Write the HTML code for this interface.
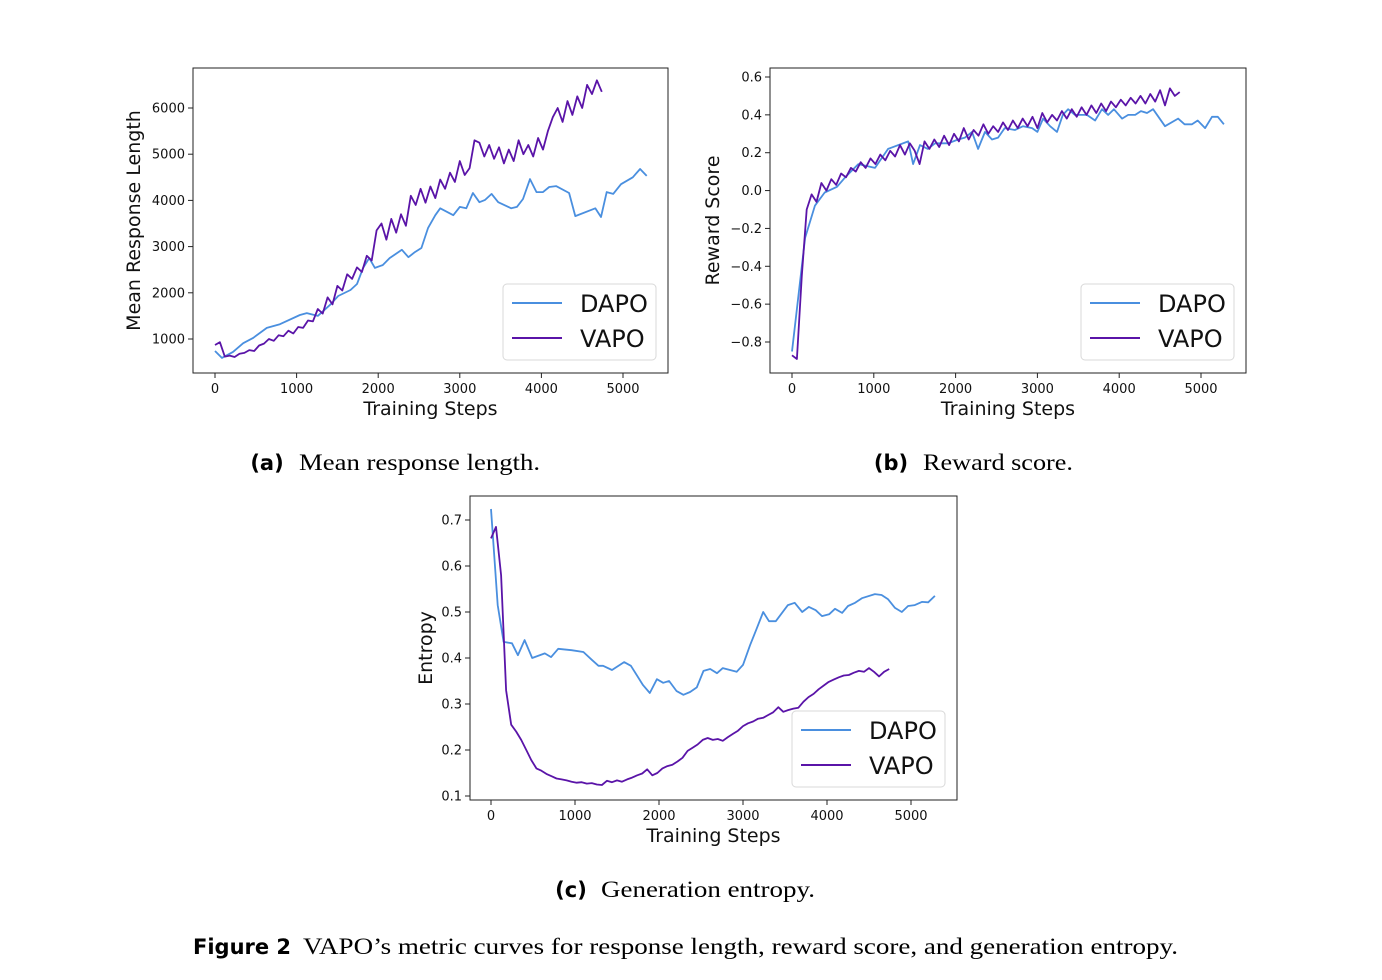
<!DOCTYPE html>
<html><head><meta charset="utf-8"><style>
html,body{margin:0;padding:0;background:#fff;}
svg{display:block;}
</style></head><body>
<svg id="fig" width="1382" height="980" xmlns="http://www.w3.org/2000/svg">
<text x="267" y="470" font-family="DejaVu Sans, sans-serif" font-weight="bold" font-size="21" text-anchor="middle">(a)</text>
<text x="299" y="470" font-family="Liberation Serif, serif" font-size="23" textLength="241" lengthAdjust="spacingAndGlyphs">Mean response length.</text>
<text x="891" y="470" font-family="DejaVu Sans, sans-serif" font-weight="bold" font-size="21" text-anchor="middle">(b)</text>
<text x="923" y="470" font-family="Liberation Serif, serif" font-size="23" textLength="150" lengthAdjust="spacingAndGlyphs">Reward score.</text>
<text x="571" y="897" font-family="DejaVu Sans, sans-serif" font-weight="bold" font-size="21" text-anchor="middle">(c)</text>
<text x="601" y="897" font-family="Liberation Serif, serif" font-size="23" textLength="214" lengthAdjust="spacingAndGlyphs">Generation entropy.</text>
<text x="193" y="954" font-family="DejaVu Sans, sans-serif" font-weight="bold" font-size="21">Figure 2</text>
<text x="303" y="954" font-family="Liberation Serif, serif" font-size="23" textLength="875" lengthAdjust="spacingAndGlyphs">VAPO’s metric curves for response length, reward score, and generation entropy.</text>
</svg>
<script>
// ---- Chart (a) data ----
const aDapoSteps=[0,85,220,345,465,635,795,1040,1125,1260,1410,1510,1660,1740,1815,1890,1960,2055,2140,2290,2370,2450,2530,2610,2700,2760,2920,3000,3080,3160,3240,3310,3390,3470,3630,3700,3775,3860,3940,4020,4095,4180,4340,4415,4660,4730,4800,4880,4975,5120,5210,5290];
const aDapoVals=[740,590,720,910,1020,1240,1320,1520,1560,1500,1740,1930,2060,2190,2540,2750,2540,2600,2750,2930,2770,2880,2970,3400,3680,3830,3680,3860,3830,4160,3960,4010,4140,3960,3830,3860,4030,4460,4180,4180,4290,4310,4160,3660,3830,3640,4180,4140,4350,4500,4680,4530];
const aVapoVals=[870,930,620,640,610,680,700,760,740,860,900,1000,960,1080,1060,1180,1120,1260,1240,1400,1380,1650,1550,1900,1750,2150,2050,2400,2300,2550,2450,2800,2700,3350,3500,3150,3600,3300,3700,3450,4100,3900,4250,3950,4300,4050,4450,4250,4600,4400,4850,4550,4700,5300,5250,4950,5200,4900,5150,4800,5100,4850,5300,5000,5200,4950,5350,5100,5500,5800,6000,5700,6150,5850,6250,6000,6500,6300,6600,6350];
const aYTicks=[1000,2000,3000,4000,5000,6000];
const aYTickLabels=["1000","2000","3000","4000","5000","6000"];
// ---- Chart (b) data ----
const bDapoSteps=[0,160,280,400,550,650,810,1015,1175,1420,1480,1565,1660,1750,1910,2030,2115,2200,2275,2360,2445,2520,2600,2725,2825,2935,3000,3070,3155,3240,3310,3375,3460,3605,3705,3790,3865,3935,4035,4110,4195,4265,4340,4415,4560,4720,4800,4890,4960,5050,5135,5205,5280];
const bDapoVals=[-0.85,-0.25,-0.08,-0.01,0.02,0.07,0.14,0.12,0.22,0.26,0.14,0.24,0.22,0.25,0.25,0.27,0.28,0.31,0.22,0.31,0.27,0.28,0.33,0.32,0.34,0.33,0.31,0.38,0.34,0.31,0.40,0.43,0.40,0.40,0.37,0.43,0.40,0.43,0.38,0.40,0.40,0.42,0.41,0.43,0.34,0.38,0.35,0.35,0.37,0.33,0.39,0.39,0.35];
const bVapoVals=[-0.87,-0.89,-0.45,-0.10,-0.02,-0.06,0.04,0.00,0.06,0.03,0.09,0.07,0.12,0.10,0.15,0.12,0.17,0.14,0.19,0.16,0.21,0.18,0.24,0.19,0.25,0.21,0.14,0.26,0.22,0.27,0.23,0.29,0.24,0.30,0.26,0.33,0.27,0.32,0.29,0.35,0.30,0.34,0.31,0.36,0.32,0.37,0.33,0.38,0.34,0.39,0.33,0.41,0.36,0.40,0.37,0.42,0.38,0.43,0.39,0.44,0.40,0.45,0.41,0.46,0.42,0.47,0.44,0.48,0.45,0.49,0.46,0.50,0.46,0.51,0.47,0.53,0.45,0.54,0.50,0.52];
const bYTicks=[-0.8,-0.6,-0.4,-0.2,0.0,0.2,0.4,0.6];
const bYTickLabels=["−0.8","−0.6","−0.4","−0.2","0.0","0.2","0.4","0.6"];
// ---- Chart (c) data ----
const cDapoSteps=[0,80,150,250,320,400,490,640,715,800,960,1100,1200,1280,1335,1440,1585,1665,1810,1890,1975,2050,2120,2210,2290,2370,2450,2530,2610,2690,2760,2925,3000,3085,3165,3240,3310,3390,3535,3615,3705,3785,3865,3940,4025,4095,4180,4250,4335,4415,4570,4650,4725,4810,4890,4965,5045,5130,5205,5285];
const cDapoVals=[0.724,0.515,0.435,0.432,0.406,0.439,0.40,0.41,0.402,0.42,0.417,0.413,0.396,0.383,0.383,0.374,0.391,0.383,0.341,0.324,0.354,0.346,0.35,0.328,0.32,0.326,0.336,0.372,0.376,0.367,0.378,0.37,0.385,0.428,0.465,0.50,0.48,0.48,0.515,0.52,0.50,0.511,0.504,0.491,0.495,0.507,0.498,0.513,0.52,0.53,0.539,0.537,0.528,0.509,0.50,0.513,0.515,0.522,0.521,0.535];
const cVapoVals=[0.66,0.685,0.58,0.33,0.255,0.24,0.222,0.2,0.178,0.16,0.155,0.148,0.143,0.138,0.136,0.134,0.131,0.129,0.13,0.127,0.128,0.125,0.124,0.133,0.13,0.134,0.131,0.136,0.14,0.145,0.149,0.158,0.145,0.15,0.16,0.165,0.168,0.175,0.183,0.198,0.205,0.212,0.222,0.226,0.222,0.224,0.22,0.228,0.235,0.242,0.252,0.258,0.262,0.268,0.27,0.276,0.282,0.293,0.283,0.287,0.29,0.292,0.305,0.315,0.322,0.332,0.34,0.348,0.353,0.358,0.362,0.363,0.368,0.372,0.37,0.378,0.37,0.36,0.37,0.376];
const cYTicks=[0.1,0.2,0.3,0.4,0.5,0.6,0.7];
const cYTickLabels=["0.1","0.2","0.3","0.4","0.5","0.6","0.7"];
// shared
const xTicks=[0,1000,2000,3000,4000,5000];
const xTickLabels=["0","1000","2000","3000","4000","5000"];
const vapoStepSize=60;

const NS="http://www.w3.org/2000/svg";
const svg=document.getElementById('fig');
function mk(tag,attrs,parent){const e=document.createElementNS(NS,tag);for(const k in attrs)e.setAttribute(k,attrs[k]);(parent||svg).appendChild(e);return e;}
const DAPO="#4a8fdf", VAPO="#5a14a8";

function chart(cfg){
  const g=mk('g',{});
  
  
  const sx=v=>cfg.x0+(v-cfg.xv0)*(cfg.x1-cfg.x0)/(cfg.xv1-cfg.xv0);
  const sy=v=>cfg.y0+(v-cfg.yv0)*(cfg.y1-cfg.y0)/(cfg.yv1-cfg.yv0);
  function line(steps,vals,color,nm){
    let d='';vals.forEach((v,i)=>{d+=(i?'L':'M')+sx(steps[i]).toFixed(1)+' '+sy(v).toFixed(1);});
    const p=mk('path',{d:d,fill:'none',stroke:color,'stroke-width':cfg.w||1.8,'stroke-linejoin':'round'},g);
    
    
  }
  line(cfg.dSteps,cfg.dVals,DAPO,'dapo-line');
  line(cfg.vVals.map((_,i)=>i*vapoStepSize),cfg.vVals,VAPO,'vapo-line');
  const fr=mk('rect',{x:cfg.bx,y:cfg.by,width:cfg.bw,height:cfg.bh,fill:'none',stroke:'#222','stroke-width':1},g);
  
  
  const bot=cfg.by+cfg.bh;
  xTicks.forEach((t,i)=>{
    const x=sx(t);
    mk('line',{x1:x,x2:x,y1:bot,y2:bot+5,stroke:'#222'},g);
    const tx=mk('text',{x:x,y:bot+20,'font-family':'DejaVu Sans, sans-serif','font-size':13,'text-anchor':'middle',fill:'#111'},g);
    tx.textContent=xTickLabels[i];
    
    
  });
  cfg.yTicks.forEach((t,i)=>{
    const y=sy(t);
    mk('line',{x1:cfg.bx-5,x2:cfg.bx,y1:y,y2:y,stroke:'#222'},g);
    const tx=mk('text',{x:cfg.bx-8,y:y+4.5,'font-family':'DejaVu Sans, sans-serif','font-size':13,'text-anchor':'end',fill:'#111'},g);
    tx.textContent=cfg.yLabels[i];
    
    
  });
  const xl=mk('text',{x:cfg.bx+cfg.bw/2,y:bot+42,'font-family':'DejaVu Sans, sans-serif','font-size':19,'text-anchor':'middle',fill:'#111'},g);
  xl.textContent='Training Steps';
  
  
  const yl=mk('text',{x:0,y:0,transform:`translate(${cfg.ylx},${cfg.by+cfg.bh/2}) rotate(-90)`,'font-family':'DejaVu Sans, sans-serif','font-size':19,'text-anchor':'middle',fill:'#111'},g);
  yl.textContent=cfg.ytitle;
  
  
  const lx=cfg.bx+cfg.bw-165, ly=bot-89;
  const lg=mk('g',{},g);
  
  
  mk('rect',{x:lx,y:ly,width:153,height:76,rx:4,fill:'#fff',stroke:'#d8d8d8'},lg);
  [['DAPO',DAPO,19],['VAPO',VAPO,54]].forEach(([n,c,dy])=>{
    const e=mk('g',{},lg);
    
    
    mk('line',{x1:lx+9,x2:lx+59,y1:ly+dy,y2:ly+dy,stroke:c,'stroke-width':2},e);
    const t=mk('text',{x:lx+77,y:ly+dy+9,'font-family':'DejaVu Sans, sans-serif','font-size':24,fill:'#111'},e);
    t.textContent=n;
  });
}
chart({name:'chart-response-length',bx:193,by:68,bw:475,bh:305,x0:215,x1:623,xv0:0,xv1:5000,y0:339,y1:108,yv0:1000,yv1:6000,
  dSteps:aDapoSteps,dVals:aDapoVals,vVals:aVapoVals,yTicks:aYTicks,yLabels:aYTickLabels,ytitle:'Mean Response Length',ylx:140});
chart({name:'chart-reward-score',bx:770,by:68,bw:476,bh:305,x0:792,x1:1201,xv0:0,xv1:5000,y0:342,y1:77,yv0:-0.8,yv1:0.6,
  dSteps:bDapoSteps,dVals:bDapoVals,vVals:bVapoVals,yTicks:bYTicks,yLabels:bYTickLabels,ytitle:'Reward Score',ylx:719});
chart({name:'chart-entropy',bx:470,by:496,bw:487,bh:304,x0:491,x1:911,xv0:0,xv1:5000,y0:796,y1:520,yv0:0.1,yv1:0.7,
  dSteps:cDapoSteps,dVals:cDapoVals,vVals:cVapoVals,yTicks:cYTicks,yLabels:cYTickLabels,ytitle:'Entropy',ylx:432});
</script>
</body></html>
